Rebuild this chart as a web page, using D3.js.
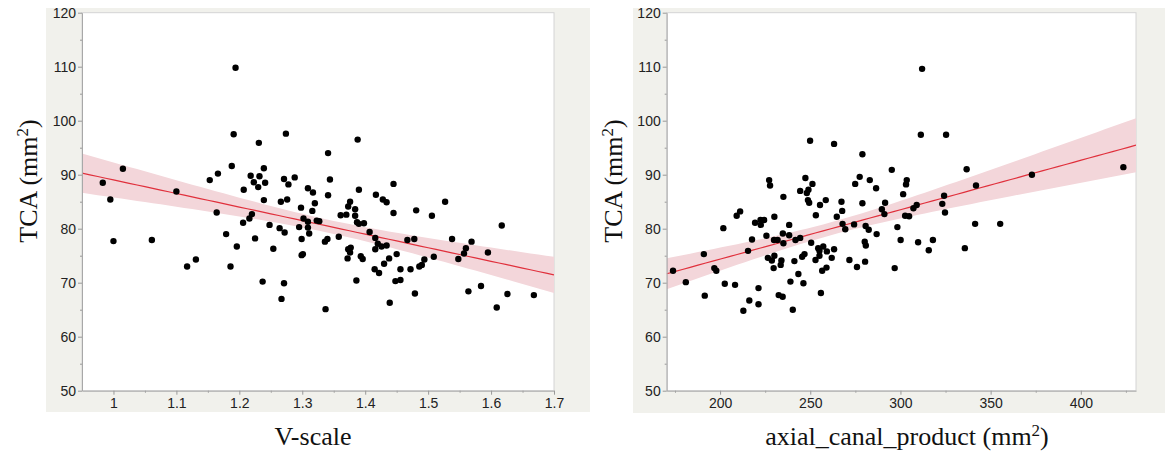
<!DOCTYPE html>
<html>
<head>
<meta charset="utf-8">
<script src="https://cdn.jsdelivr.net/npm/d3@7"></script>
<style>
  body { margin: 0; background: #fff; }
  .tick text { font-family: "Liberation Sans", Arial, sans-serif; font-size: 14px; fill: #222; }
  .title { font-family: "Liberation Serif", "Times New Roman", serif; font-size: 26px; fill: #111; }
</style>
</head>
<body>
<script>
const W = 1165, H = 458;

// TCA vs V-scale (left panel)
const vscaleX = [0.983,0.995,1.015,1.0,1.061,
  1.194,1.191,1.274,1.231,1.188,1.239,1.166,1.153,1.218,1.232,1.223,1.230,1.241,1.271,1.288,1.278,1.207,1.100,1.239,1.266,1.276,1.309,1.317,1.320,1.298,1.316,1.164,1.220,1.216,1.206,1.302,1.309,1.323,1.327,1.248,1.264,1.272,1.295,1.309,1.311,1.179,1.225,1.299,1.196,1.254,1.299,1.301,1.117,1.131,1.186,1.237,1.271,1.267,
  1.388,1.341,1.344,1.341,1.445,1.390,1.417,1.428,1.434,1.527,1.376,1.373,1.384,1.481,1.445,1.361,1.370,1.384,1.506,1.387,1.390,1.398,1.407,1.358,1.416,1.340,1.336,1.467,1.478,1.538,1.569,1.420,1.426,1.434,1.377,1.373,1.416,1.560,1.376,1.557,1.372,1.393,1.396,1.450,1.438,1.509,1.494,1.490,1.486,1.548,1.415,1.430,1.422,1.456,1.472,1.386,1.448,1.456,1.479,1.564,1.584,1.439,1.337,
  1.617,1.595,1.609,1.626,1.668];
const vscaleTCA = [88.5,85.4,91.1,77.7,77.9,
  109.8,97.5,97.6,95.9,91.6,91.2,90.2,89.0,89.8,89.7,88.6,87.7,88.5,89.2,89.5,88.2,87.2,86.9,85.3,85.0,85.4,87.5,86.7,84.7,83.9,83.3,83.0,82.7,81.9,81.1,81.9,81.3,81.5,81.4,80.7,80.1,79.3,80.3,80.2,79.1,79.0,78.2,78.1,76.7,76.3,75.1,75.3,73.0,74.3,73.0,70.2,69.9,67.0,
  96.5,94.0,89.1,86.2,88.3,87.2,86.3,85.4,84.9,85.0,85.0,84.1,83.6,83.4,82.9,82.5,82.6,82.4,82.4,81.2,80.9,81.0,79.4,78.5,78.3,78.1,77.6,77.9,78.1,78.1,77.6,77.2,76.7,76.9,76.5,76.2,76.2,76.4,75.6,75.4,74.5,74.9,74.4,75.3,74.5,74.8,74.3,73.3,73.0,74.4,72.5,73.5,71.8,72.5,72.5,70.4,70.3,70.5,68.0,68.4,69.4,66.3,65.1,
  80.6,75.6,65.4,67.9,67.7];

// TCA vs axial_canal_product (right panel)
const acpX = [173.9,181.0,372.9,423.6,312.0,
  249.9,263.2,247.3,227.2,227.7,251.2,244.4,249.0,248.1,248.7,249.4,235.1,258.6,255.4,267.3,267.7,264.7,267.9,269.4,253.1,211.1,209.2,230.1,224.4,222.4,219.4,
  222.6,238.3,201.8,225.7,234.8,238.3,217.7,229.9,231.9,235.1,241.8,244.4,250.5,191.0,215.5,254.4,255.1,257.2,259.2,263.2,246.8,245.5,255.1,252.9,261.9,271.7,
  226.5,230.1,228.7,234.0,233.6,229.7,241.2,196.8,197.9,259.0,256.6,243.4,202.6,208.3,239.0,246.2,221.3,191.5,255.9,232.5,234.7,216.2,221.3,212.9,240.3,
  311.3,325.3,278.9,295.2,336.7,277.4,274.9,283.0,286.5,303.5,303.1,301.5,278.9,291.5,289.7,291.1,324.2,323.2,324.7,307.2,309.0,302.6,304.8,341.9,355.3,341.4,335.7,318.0,309.8,
  315.7,300.1,298.3,296.8,286.8,280.7,282.4,274.3,280.2,280.8,280.4,275.9];
const acpTCA = [72.2,70.1,90.0,91.4,109.6,
  96.3,95.7,89.4,89.0,88.0,88.3,87.0,87.2,86.6,85.3,84.8,85.9,85.3,84.4,85.0,83.3,82.2,80.9,79.9,82.5,83.2,82.4,82.2,81.6,81.6,81.1,
  80.7,80.7,80.1,78.7,79.1,78.8,78.0,77.9,77.9,77.3,77.9,78.3,77.4,75.3,75.9,76.4,75.9,76.7,75.8,76.2,75.3,74.8,75.0,74.2,74.6,74.2,
  74.6,75.0,74.1,74.1,73.3,72.7,74.0,72.7,72.2,72.8,72.2,71.6,69.8,69.6,70.2,69.9,69.0,67.6,68.1,67.7,67.4,66.7,66.0,64.8,65.0,
  97.4,97.4,93.8,90.9,91.0,89.6,88.3,89.0,87.5,89.0,88.2,86.4,84.7,84.8,83.6,82.7,86.1,84.6,83.0,83.8,84.4,82.4,82.3,88.0,80.9,80.9,76.4,77.9,77.5,
  76.0,77.9,80.3,72.7,79.0,80.5,79.8,80.8,77.6,76.9,73.9,72.9];

const yTicks = [50, 60, 70, 80, 90, 100, 110, 120];
const vscaleTicks = [1, 1.1, 1.2, 1.3, 1.4, 1.5, 1.6, 1.7];
const acpTicks = [200, 250, 300, 350, 400];

const svg = d3.select('body').append('svg')
  .attr('width', W)
  .attr('height', H);

function drawPanel(o) {
  // grey backdrop
  svg.append('rect')
    .attr('x', o.bg[0]).attr('y', o.bg[1])
    .attr('width', o.bg[2]).attr('height', o.bg[3])
    .attr('fill', '#f1f1ec');

  const x = d3.scaleLinear().domain(o.xDomain).range([o.left, o.right]);
  const y = d3.scaleLinear().domain([50, 120]).range([o.bottom, o.top]);

  svg.append('rect')
    .attr('x', o.left).attr('y', o.top)
    .attr('width', o.right - o.left).attr('height', o.bottom - o.top)
    .attr('fill', '#fff').attr('stroke', '#d4d4d4');

  const clipId = 'clip' + o.left;
  svg.append('clipPath').attr('id', clipId)
    .append('rect')
    .attr('x', o.left).attr('y', o.top)
    .attr('width', o.right - o.left).attr('height', o.bottom - o.top);

  // least squares fit + 95% confidence band of the mean
  const n = o.xs.length;
  const mx = d3.mean(o.xs), my = d3.mean(o.ys);
  let sxx = 0, sxy = 0;
  o.xs.forEach((v, i) => { sxx += (v - mx) ** 2; sxy += (v - mx) * (o.ys[i] - my); });
  const b = sxy / sxx, a = my - b * mx;
  let sse = 0;
  o.xs.forEach((v, i) => { sse += (o.ys[i] - a - b * v) ** 2; });
  const s = Math.sqrt(sse / (n - 2)), t = 1.979;
  const grid = d3.range(0, 61).map(k => o.xDomain[0] + k * (o.xDomain[1] - o.xDomain[0]) / 60);
  const band = grid.map(v => {
    const fit = a + b * v;
    const h = t * s * Math.sqrt(1 / n + (v - mx) ** 2 / sxx);
    return {v: v, lo: fit - h, hi: fit + h, fit: fit};
  });

  const g = svg.append('g').attr('clip-path', `url(#${clipId})`);
  g.append('path')
    .attr('d', d3.area().x(d => x(d.v)).y0(d => y(d.lo)).y1(d => y(d.hi))(band))
    .attr('fill', '#f3d6da');
  g.append('path')
    .attr('d', d3.line().x(d => x(d.v)).y(d => y(d.fit))(band))
    .attr('stroke', '#e0303c').attr('stroke-width', 1.2).attr('fill', 'none');

  g.selectAll('circle')
    .data(o.xs.map((v, i) => [v, o.ys[i]]))
    .enter()
    .append('circle')
    .attr('cx', d => x(d[0]))
    .attr('cy', d => y(d[1]))
    .attr('r', 3.2)
    .attr('fill', '#000');

  // axes: major labelled ticks and unlabelled minor ticks
  const yMinor = d3.range(55, 120, 10);
  svg.append('g').attr('transform', `translate(${o.left},0)`)
    .call(d3.axisLeft(y).tickValues(yMinor).tickSize(2).tickFormat(''))
    .call(ax => ax.select('.domain').remove());
  svg.append('g').attr('transform', `translate(${o.left},0)`)
    .call(d3.axisLeft(y).tickValues(yTicks).tickSize(4).tickPadding(2).tickSizeOuter(0))
    .call(ax => ax.select('.domain').attr('stroke', '#a8a8a8'));

  svg.append('g').attr('transform', `translate(0,${o.bottom})`)
    .call(d3.axisBottom(x).tickValues(o.xMinor).tickSize(2).tickFormat(''))
    .call(ax => ax.select('.domain').remove());
  svg.append('g').attr('transform', `translate(0,${o.bottom})`)
    .call(d3.axisBottom(x).tickValues(o.xTicks).tickSize(4).tickPadding(3).tickSizeOuter(0).tickFormat(d3.format('')))
    .call(ax => ax.select('.domain').attr('stroke', '#a8a8a8'));

  svg.selectAll('.tick line').attr('stroke', '#999');

  // titles
  svg.append('text').attr('class', 'title')
    .attr('transform', `translate(${o.yTitleX},181) rotate(-90)`)
    .attr('text-anchor', 'middle')
    .html('TCA (mm<tspan dy="-9" font-size="17">2</tspan><tspan dy="9">)</tspan>');
  svg.append('text').attr('class', 'title')
    .attr('x', o.xTitleX).attr('y', 445)
    .attr('text-anchor', 'middle')
    .html(o.xTitle);
}

drawPanel({
  bg: [46, 8, 544, 404],
  left: 82, right: 554, top: 12.7, bottom: 390.7,
  xDomain: [0.95, 1.7],
  xs: vscaleX, ys: vscaleTCA,
  xTicks: vscaleTicks,
  xMinor: d3.range(1.05, 1.7, 0.1),
  yTitleX: 37, xTitleX: 313,
  xTitle: 'V-scale'
});

drawPanel({
  bg: [633, 8, 532, 405],
  left: 666.7, right: 1136, top: 12.7, bottom: 390.7,
  xDomain: [170.4, 430.6],
  xs: acpX, ys: acpTCA,
  xTicks: acpTicks,
  xMinor: [175, 225, 275, 325, 375, 425],
  yTitleX: 622, xTitleX: 907,
  xTitle: 'axial_canal_product (mm<tspan dy="-9" font-size="17">2</tspan><tspan dy="9">)</tspan>'
});
</script>
</body>
</html>
